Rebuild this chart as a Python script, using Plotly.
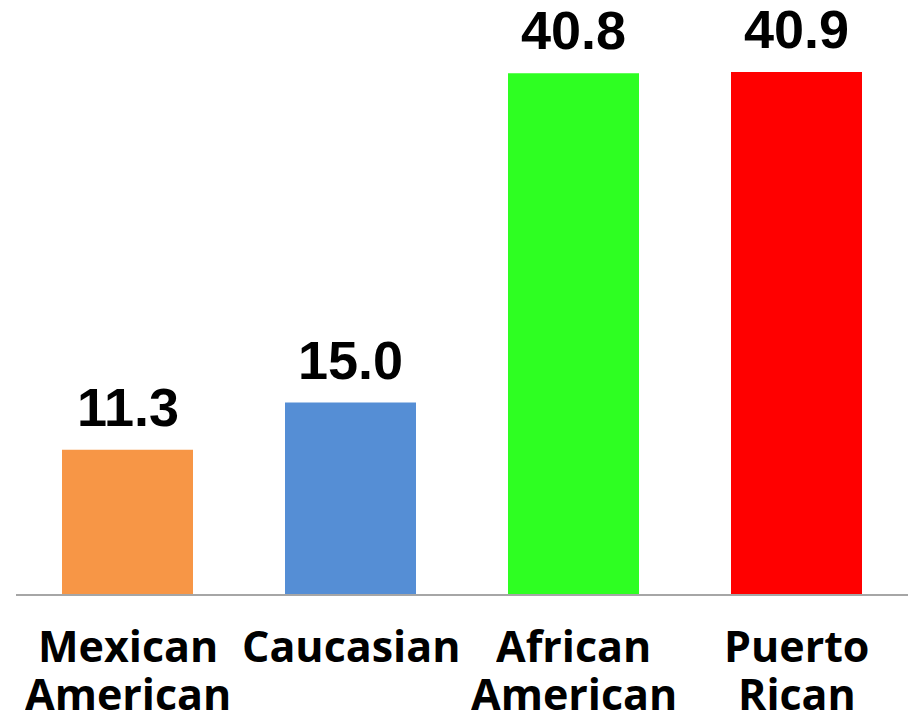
import plotly.graph_objects as go

categories = ["Mexican<br>American", "Caucasian", "African<br>American", "Puerto<br>Rican"]
values = [11.3, 15.0, 40.8, 40.9]
colors = ["#F79646", "#558ED5", "#2EFF22", "#FF0000"]
value_labels = ["11.3", "15.0", "40.8", "40.9"]

fig = go.Figure()
fig.add_trace(go.Bar(x=categories, y=values, marker=dict(color=colors, line=dict(width=0)),
                     hoverinfo="skip"))

annotations = []
for c, v, t in zip(categories, values, value_labels):
    annotations.append(dict(x=c, y=v, xref="x", yref="y", text=t, showarrow=False,
                            yanchor="bottom", yshift=11,
                            font=dict(family="Liberation Sans", size=54, color="black", weight="bold")))
    lines = c.split("<br>")
    for i, ln in enumerate(lines):
        annotations.append(dict(x=c, y=0, xref="x", yref="paper", text=ln, showarrow=False,
                                yanchor="middle", yshift=-(51 + 48 * i), height=46,
                                font=dict(family="Open Sans", size=43, color="black", weight="bold")))

fig.update_layout(
    width=910, height=716,
    margin=dict(l=16, r=2, t=0, b=122),
    paper_bgcolor="white", plot_bgcolor="white",
    bargap=0.4126,
    showlegend=False,
    annotations=annotations,
    xaxis=dict(showticklabels=False, showline=True, linecolor="#A6A6A6", linewidth=2,
               ticks="", showgrid=False, zeroline=False, fixedrange=True),
    yaxis=dict(range=[0, 46.55], visible=False, showgrid=False, zeroline=False, fixedrange=True),
)

fig.write_html("out.html")
